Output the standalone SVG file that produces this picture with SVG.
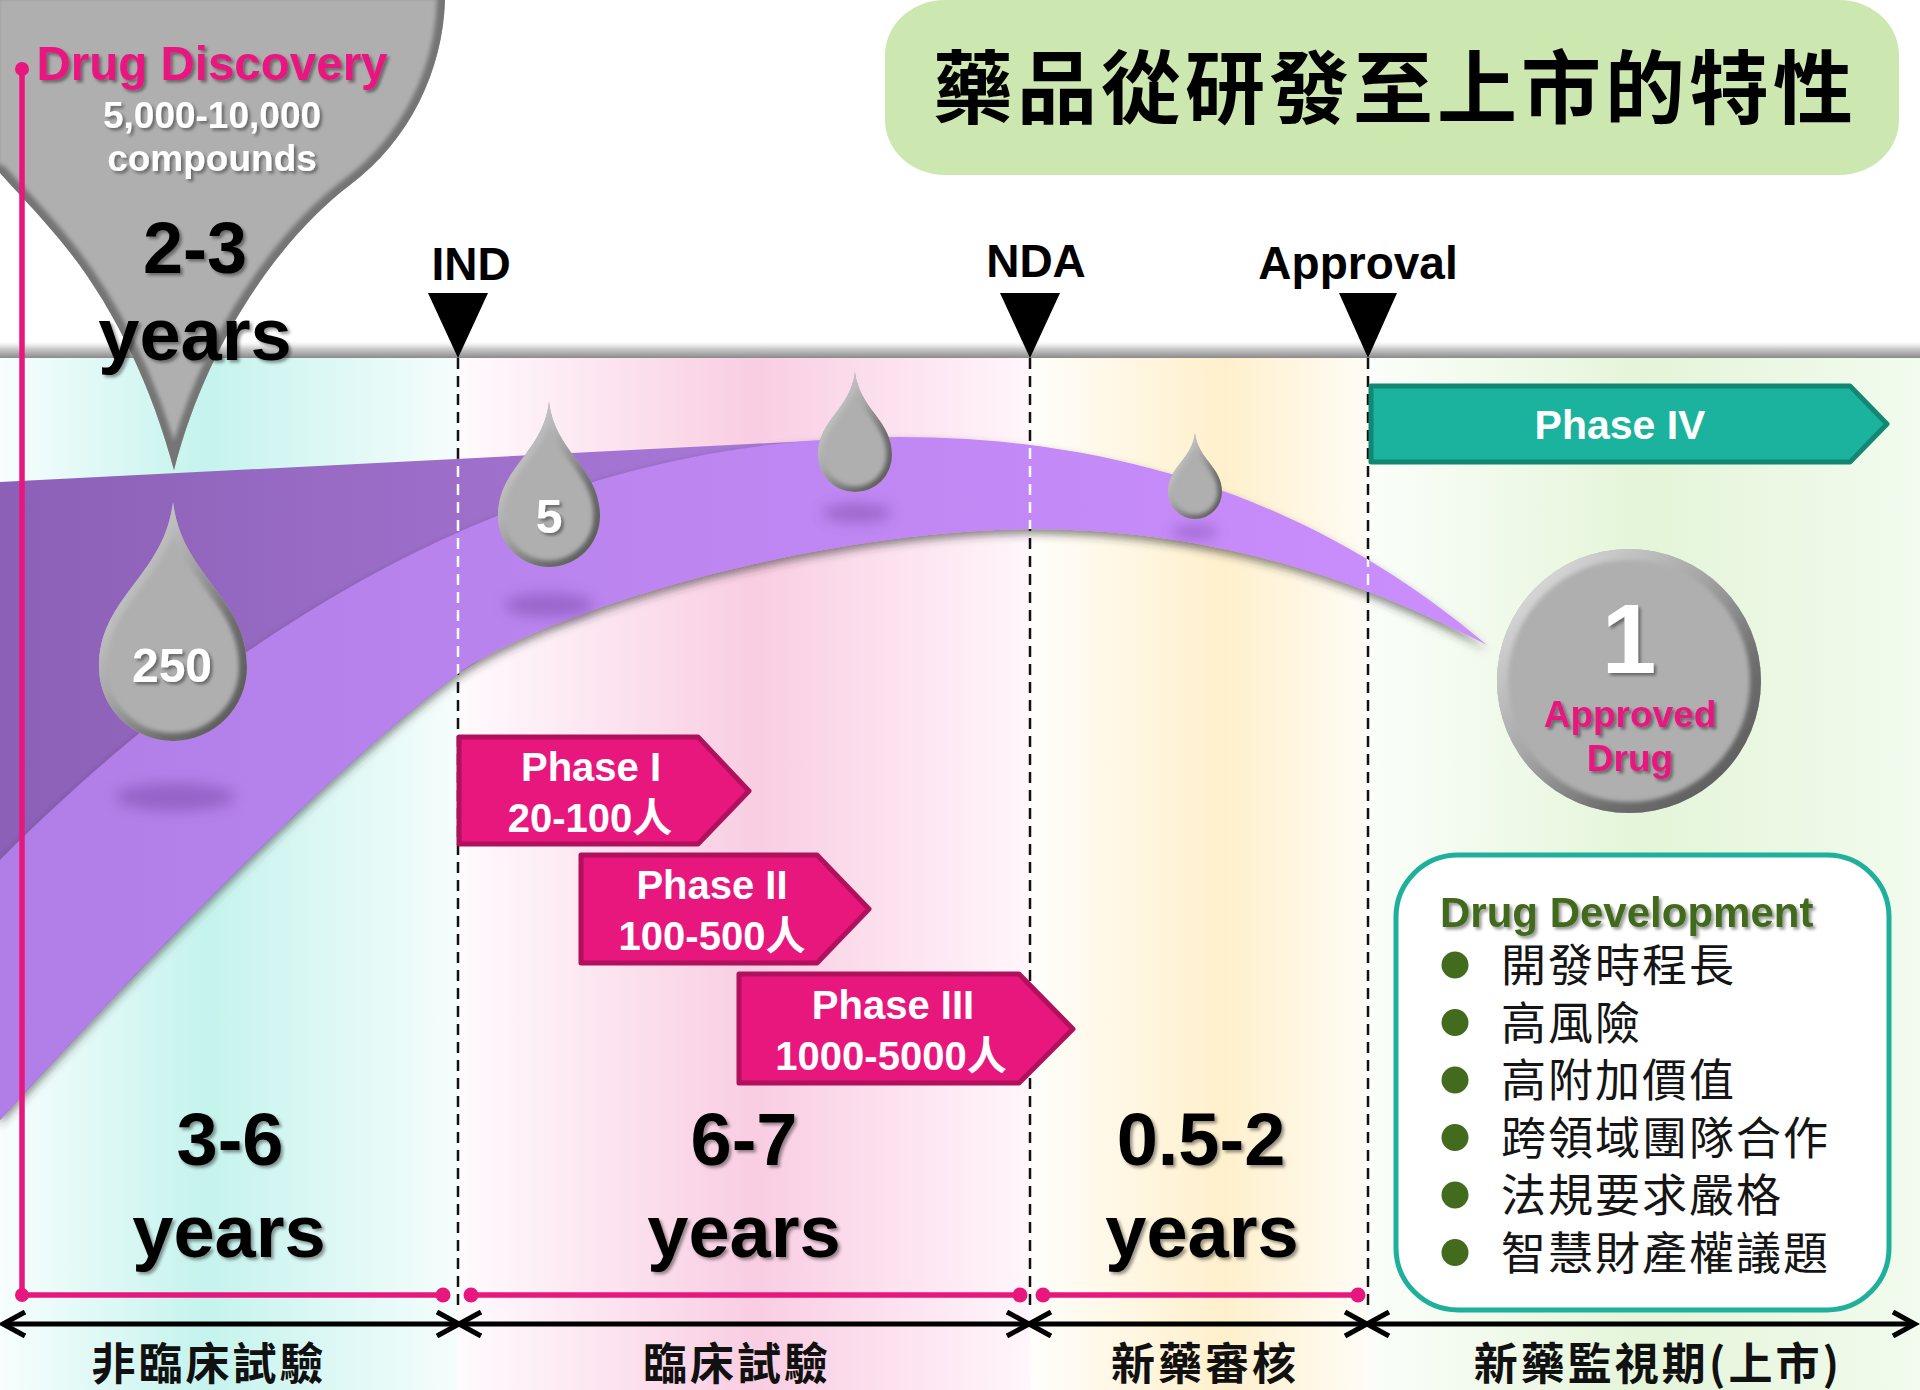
<svg xmlns="http://www.w3.org/2000/svg" width="1920" height="1390" viewBox="0 0 1920 1390">
  <style>
    .en { font-family: 'Liberation Sans', Arial, 'Noto Sans CJK TC', sans-serif; font-weight: bold; }
    .cjk { font-family: 'Noto Sans CJK TC', 'Noto Sans CJK SC', sans-serif; }
    .mid { text-anchor: middle; }
    .white { fill: #ffffff; }
    .magenta { fill: #e8167f; }
    .phase { fill: #e8177d; stroke: #b0105c; stroke-width: 5; stroke-linejoin: round; }
    .phase4 { fill: #1bb39e; stroke: #128874; stroke-width: 5; stroke-linejoin: round; }
    .gem { fill: #afafaf; }
    .rim { fill: none; stroke: url(#gRim); filter: url(#blur2); }
    .dash-black { stroke: #111; stroke-width: 2.5; stroke-dasharray: 11 7; fill: none; }
    .dash-white { stroke: #fff; stroke-width: 2.5; stroke-dasharray: 11 7; fill: none; }
    .pinkline { stroke: #e8177d; stroke-width: 5.5; fill: none; }
    .pinkdot { fill: #e8177d; }
    .axis { stroke: #000; stroke-width: 5; fill: none; }
    .years { font-size: 74px; }
    .bottom { font-size: 44px; font-weight: bold; letter-spacing: 3px; fill: #111; }
    .item { font-size: 45px; letter-spacing: 2px; fill: #151515; }
    .bullet { fill: #436b1e; }
  </style>
  <defs>
    <linearGradient id="gTeal" x1="0" y1="0" x2="458" y2="0" gradientUnits="userSpaceOnUse">
      <stop offset="0" stop-color="#f7fefd"/>
      <stop offset="0.45" stop-color="#c5f3ed"/>
      <stop offset="1" stop-color="#f5fdfc"/>
    </linearGradient>
    <linearGradient id="gPink" x1="458" y1="0" x2="1030" y2="0" gradientUnits="userSpaceOnUse">
      <stop offset="0" stop-color="#fffbfd"/>
      <stop offset="0.52" stop-color="#f9cde2"/>
      <stop offset="1" stop-color="#fff6fb"/>
    </linearGradient>
    <linearGradient id="gYellow" x1="1030" y1="0" x2="1368" y2="0" gradientUnits="userSpaceOnUse">
      <stop offset="0" stop-color="#fffefb"/>
      <stop offset="0.57" stop-color="#fff0cc"/>
      <stop offset="1" stop-color="#fffcf6"/>
    </linearGradient>
    <linearGradient id="gGreen" x1="1368" y1="0" x2="1920" y2="0" gradientUnits="userSpaceOnUse">
      <stop offset="0" stop-color="#fbfefa"/>
      <stop offset="0.5" stop-color="#e4f5d9"/>
      <stop offset="1" stop-color="#f2fbee"/>
    </linearGradient>
    <linearGradient id="gBar" x1="0" y1="340" x2="0" y2="358" gradientUnits="userSpaceOnUse">
      <stop offset="0" stop-color="#ffffff" stop-opacity="0"/>
      <stop offset="0.45" stop-color="#d0d0d0"/>
      <stop offset="1" stop-color="#8a8a8a"/>
    </linearGradient>
    <linearGradient id="gDark" x1="0" y1="0" x2="810" y2="0" gradientUnits="userSpaceOnUse">
      <stop offset="0" stop-color="#8c60b6"/>
      <stop offset="1" stop-color="#aa7ad9"/>
    </linearGradient>
    <linearGradient id="gLight" x1="0" y1="0" x2="1487" y2="0" gradientUnits="userSpaceOnUse">
      <stop offset="0" stop-color="#b07ee6"/>
      <stop offset="1" stop-color="#cb8efd"/>
    </linearGradient>
    <!-- rim shading: lit from the upper left -->
    <linearGradient id="gRim" x1="0" y1="0" x2="1" y2="1">
      <stop offset="0" stop-color="#ececec"/>
      <stop offset="0.45" stop-color="#a4a4a4"/>
      <stop offset="0.7" stop-color="#6e6e6e"/>
      <stop offset="1" stop-color="#555555"/>
    </linearGradient>

    <filter id="blur2" x="-10%" y="-10%" width="120%" height="120%">
      <feGaussianBlur stdDeviation="2.2"/>
    </filter>
    <filter id="ts" x="-10%" y="-20%" width="130%" height="160%">
      <feDropShadow dx="2.5" dy="2.5" stdDeviation="1.5" flood-color="#000" flood-opacity="0.4"/>
    </filter>
    <filter id="bandShadow" x="-5%" y="-10%" width="110%" height="130%">
      <feDropShadow dx="0" dy="5" stdDeviation="4" flood-color="#333" flood-opacity="0.55"/>
    </filter>
    <filter id="soft" x="-50%" y="-100%" width="200%" height="300%">
      <feGaussianBlur stdDeviation="7"/>
    </filter>

    <!-- shapes -->
    <path id="darkBand" d="M0,482 L810,441 L700,520 L459,673 C330,770 150,955 0,1120 Z"/>
    <path id="lightBand" d="M0,860 C300,560 600,437 900,437 C1150,437 1340,520 1487,645 C1380,590 1230,529 1030,529 C800,532 540,615 459,673 C330,770 150,955 0,1120 Z"/>
    <path id="funnelShape" d="M-10,-10 L447,-10 L445,0 C443,70 410,140 350,185 C290,230 210,330 174,470 C150,380 110,300 60,240 C35,210 15,190 0,173 L-10,170 Z"/>
    <path id="drop250" d="M173,502 C181.9,576.3 247,596.9 247,667 A74,74 0 0 1 99,667 C99,596.9 164.1,576.3 173,502 Z"/>
    <path id="drop5" d="M549,402 C555.1,453.3 600,467.6 600,516 A51,51 0 0 1 498,516 C498,467.6 542.9,453.3 549,402 Z"/>
    <path id="dropC" d="M855,372 C859.4,409.4 892,419.7 892,455 A37,37 0 0 1 818,455 C818,419.7 850.6,409.4 855,372 Z"/>
    <path id="dropD" d="M1195,433 C1198.2,459.6 1222,466.9 1222,492 A27,27 0 0 1 1168,492 C1168,466.9 1191.8,459.6 1195,433 Z"/>
    <circle id="badge" cx="1629" cy="681" r="132"/>

    <clipPath id="bandClip"><use href="#darkBand"/><use href="#lightBand"/></clipPath>
    <clipPath id="cFunnel"><use href="#funnelShape"/></clipPath>
    <clipPath id="c250"><use href="#drop250"/></clipPath>
    <clipPath id="c5"><use href="#drop5"/></clipPath>
    <clipPath id="cC"><use href="#dropC"/></clipPath>
    <clipPath id="cD"><use href="#dropD"/></clipPath>
    <clipPath id="cBadge"><use href="#badge"/></clipPath>

    <marker id="chev" viewBox="0 0 30 30" refX="27" refY="15" markerWidth="30" markerHeight="30" markerUnits="userSpaceOnUse" orient="auto-start-reverse" overflow="visible">
      <path d="M5,3 L27,15 L5,27" fill="none" stroke="#000" stroke-width="5"/>
    </marker>
  </defs>

  <!-- stage columns -->
  <g id="bg">
    <rect x="0" y="0" width="1920" height="1390" fill="#ffffff"/>
    <rect x="0" y="358" width="458" height="1032" fill="url(#gTeal)"/>
    <rect x="458" y="358" width="572" height="1032" fill="url(#gPink)"/>
    <rect x="1030" y="358" width="338" height="1032" fill="url(#gYellow)"/>
    <rect x="1368" y="358" width="552" height="1032" fill="url(#gGreen)"/>
    <rect x="0" y="340" width="1920" height="18" fill="url(#gBar)"/>
  </g>

  <!-- milestone guide lines (black part sits under the band) -->
  <g id="guides">
    <line class="dash-black" x1="458" y1="358" x2="458" y2="1312"/>
    <line class="dash-black" x1="1030" y1="358" x2="1030" y2="1312"/>
    <line class="dash-black" x1="1368" y1="358" x2="1368" y2="1312"/>
  </g>

  <!-- attrition band -->
  <g id="band">
    <use href="#darkBand" fill="url(#gDark)"/>
    <use href="#lightBand" fill="url(#gLight)" filter="url(#bandShadow)"/>
    <g clip-path="url(#bandClip)">
      <line class="dash-white" x1="458" y1="358" x2="458" y2="1312"/>
      <line class="dash-white" x1="1030" y1="358" x2="1030" y2="1312"/>
      <line class="dash-white" x1="1368" y1="358" x2="1368" y2="1312"/>
    </g>
  </g>

  <!-- drop shadows -->
  <g id="drop-shadows" fill="#6a3a98" opacity="0.4" filter="url(#soft)">
    <ellipse cx="175" cy="797" rx="60" ry="14"/>
    <ellipse cx="549" cy="605" rx="45" ry="12"/>
    <ellipse cx="857" cy="513" rx="35" ry="10"/>
    <ellipse cx="1195" cy="532" rx="24" ry="7"/>
  </g>

  <!-- discovery funnel -->
  <g id="funnel">
    <use href="#funnelShape" class="gem"/>
    <g clip-path="url(#cFunnel)">
      <use href="#funnelShape" fill="none" stroke="#747474" stroke-width="16" filter="url(#blur2)"/>
    </g>
    <g filter="url(#ts)">
      <text class="en magenta mid" x="212" y="80" font-size="47.5">Drug Discovery</text>
      <text class="en white mid" x="212" y="128" font-size="37">5,000-10,000</text>
      <text class="en white mid" x="212" y="171" font-size="37">compounds</text>
      <text class="en mid" x="195" y="273" font-size="72">2-3</text>
      <text class="en mid" x="195" y="360" font-size="74">years</text>
    </g>
  </g>

  <g id="drop-250">
    <use href="#drop250" class="gem"/>
    <g clip-path="url(#c250)"><use href="#drop250" class="rim" stroke-width="16"/></g>
    <text class="en white mid" x="172" y="682" font-size="48" filter="url(#ts)">250</text>
  </g>
  <g id="drop-5">
    <use href="#drop5" class="gem"/>
    <g clip-path="url(#c5)"><use href="#drop5" class="rim" stroke-width="13"/></g>
    <text class="en white mid" x="549" y="533" font-size="48" filter="url(#ts)">5</text>
  </g>
  <g id="drop-3">
    <use href="#dropC" class="gem"/>
    <g clip-path="url(#cC)"><use href="#dropC" class="rim" stroke-width="11"/></g>
  </g>
  <g id="drop-4">
    <use href="#dropD" class="gem"/>
    <g clip-path="url(#cD)"><use href="#dropD" class="rim" stroke-width="9"/></g>
  </g>

  <!-- clinical phases -->
  <g id="phase-1">
    <polygon class="phase" points="459,737 698,737 749,791 698,844 459,844"/>
    <text class="en white mid" x="591" y="781" font-size="40">Phase I</text>
    <text class="en white mid" x="590" y="832" font-size="40">20-100人</text>
  </g>
  <g id="phase-2">
    <polygon class="phase" points="581,855 817,855 869,909 817,963 581,963"/>
    <text class="en white mid" x="712" y="899" font-size="40">Phase II</text>
    <text class="en white mid" x="712" y="950" font-size="40">100-500人</text>
  </g>
  <g id="phase-3">
    <polygon class="phase" points="739,974 1019,974 1073,1029 1019,1083 739,1083"/>
    <text class="en white mid" x="893" y="1019" font-size="40">Phase III</text>
    <text class="en white mid" x="891" y="1070" font-size="40">1000-5000人</text>
  </g>
  <g id="phase-4">
    <polygon class="phase4" points="1371,386 1850,386 1887,424 1850,462 1371,462"/>
    <text class="en white mid" x="1620" y="439" font-size="41">Phase IV</text>
  </g>

  <!-- milestones -->
  <g id="milestone-ind">
    <polygon points="428,293 488,293 458,358" fill="#000"/>
    <text class="en mid" x="471" y="280" font-size="46">IND</text>
  </g>
  <g id="milestone-nda">
    <polygon points="1000,293 1060,293 1030,358" fill="#000"/>
    <text class="en mid" x="1036" y="277" font-size="46">NDA</text>
  </g>
  <g id="milestone-approval">
    <polygon points="1339,293 1397,293 1368,358" fill="#000"/>
    <text class="en mid" x="1358" y="279" font-size="46">Approval</text>
  </g>

  <!-- stage durations -->
  <g id="stage-preclinical" filter="url(#ts)">
    <text class="en mid" x="230" y="1165" font-size="74">3-6</text>
    <text class="en mid years" x="229" y="1257">years</text>
  </g>
  <g id="stage-clinical" filter="url(#ts)">
    <text class="en mid" x="744" y="1165" font-size="74">6-7</text>
    <text class="en mid years" x="744" y="1257">years</text>
  </g>
  <g id="stage-review" filter="url(#ts)">
    <text class="en mid" x="1201" y="1165" font-size="74">0.5-2</text>
    <text class="en mid years" x="1202" y="1257">years</text>
  </g>

  <!-- approved drug badge -->
  <g id="approved">
    <use href="#badge" class="gem"/>
    <g clip-path="url(#cBadge)"><use href="#badge" class="rim" stroke-width="22"/></g>
    <g filter="url(#ts)">
      <text class="en white mid" x="1629" y="673" font-size="98">1</text>
      <text class="en magenta mid" x="1630" y="727" font-size="37">Approved</text>
      <text class="en magenta mid" x="1630" y="771" font-size="37">Drug</text>
    </g>
  </g>

  <!-- characteristics panel -->
  <g id="drug-development">
    <rect x="1396" y="855" width="493" height="455" rx="62" fill="#ffffff" stroke="#1eb09b" stroke-width="5"/>
    <text class="en" x="1440" y="927" font-size="42" fill="#436b1e" filter="url(#ts)">Drug Development</text>
    <circle class="bullet" cx="1455" cy="965" r="13.5"/>
    <circle class="bullet" cx="1455" cy="1022.5" r="13.5"/>
    <circle class="bullet" cx="1455" cy="1080" r="13.5"/>
    <circle class="bullet" cx="1455" cy="1137.5" r="13.5"/>
    <circle class="bullet" cx="1455" cy="1195" r="13.5"/>
    <circle class="bullet" cx="1455" cy="1252.5" r="13.5"/>
    <text class="cjk item" x="1501" y="982">開發時程長</text>
    <text class="cjk item" x="1501" y="1039.5">高風險</text>
    <text class="cjk item" x="1501" y="1097">高附加價值</text>
    <text class="cjk item" x="1501" y="1154.5">跨領域團隊合作</text>
    <text class="cjk item" x="1501" y="1212">法規要求嚴格</text>
    <text class="cjk item" x="1501" y="1269.5">智慧財產權議題</text>
  </g>

  <!-- timeline connectors -->
  <g id="connectors">
    <path class="pinkline" d="M22,69 L22,1295 L443,1295"/>
    <line class="pinkline" x1="471" y1="1295" x2="1020" y2="1295"/>
    <line class="pinkline" x1="1043" y1="1295" x2="1358" y2="1295"/>
    <circle class="pinkdot" cx="22" cy="69" r="7"/>
    <circle class="pinkdot" cx="22" cy="1295" r="7"/>
    <circle class="pinkdot" cx="443" cy="1295" r="7.5"/>
    <circle class="pinkdot" cx="471" cy="1295" r="7.5"/>
    <circle class="pinkdot" cx="1020" cy="1295" r="7.5"/>
    <circle class="pinkdot" cx="1043" cy="1295" r="7.5"/>
    <circle class="pinkdot" cx="1358" cy="1295" r="7.5"/>

    <line class="axis" x1="3" y1="1324" x2="459" y2="1324" marker-start="url(#chev)" marker-end="url(#chev)"/>
    <line class="axis" x1="459" y1="1324" x2="1029" y2="1324" marker-start="url(#chev)" marker-end="url(#chev)"/>
    <line class="axis" x1="1029" y1="1324" x2="1367" y2="1324" marker-start="url(#chev)" marker-end="url(#chev)"/>
    <line class="axis" x1="1367" y1="1324" x2="1915" y2="1324" marker-start="url(#chev)" marker-end="url(#chev)"/>
  </g>

  <!-- stage names -->
  <g id="stage-labels">
    <text class="cjk bottom mid" x="209" y="1380">非臨床試驗</text>
    <text class="cjk bottom mid" x="737" y="1380">臨床試驗</text>
    <text class="cjk bottom mid" x="1205" y="1380">新藥審核</text>
    <text class="cjk bottom mid" x="1658" y="1380">新藥監視期(上市)</text>
  </g>

  <!-- heading -->
  <g id="title">
    <rect x="885" y="0" width="1014" height="175" rx="60" ry="55" fill="#cce8b0"/>
    <text class="cjk" x="933" y="117" font-size="80" font-weight="bold" letter-spacing="4" fill="#000">藥品從研發至上市的特性</text>
  </g>
</svg>
